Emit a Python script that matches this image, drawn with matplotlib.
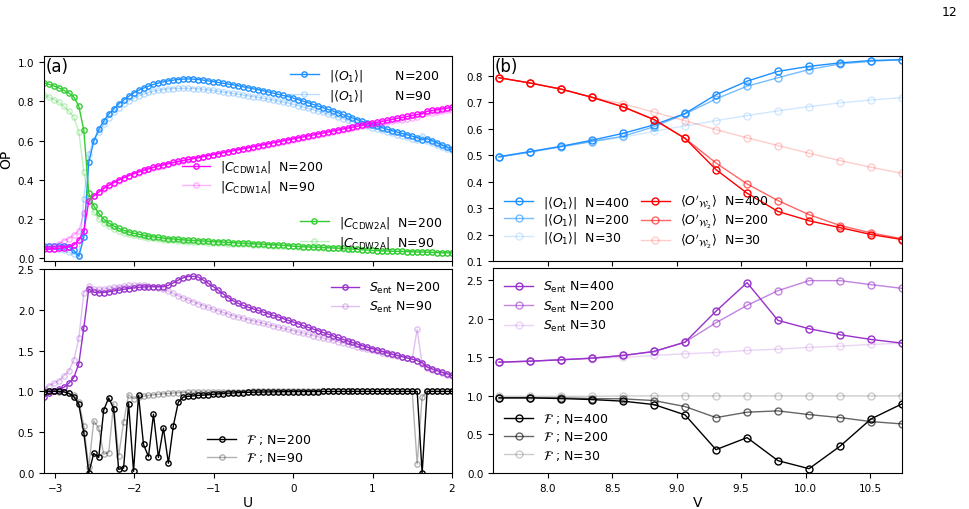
import numpy as np
import matplotlib
matplotlib.use("Agg")
import matplotlib.pyplot as plt

# ---------------- Panel (a) data ----------------
U = np.round(np.linspace(-3.14, 2.0, 83), 4)

O1_N200 = [0.060, 0.060, 0.061, 0.062, 0.062, 0.058, 0.040, 0.010, 0.107, 0.490,
           0.597, 0.658, 0.700, 0.736, 0.762, 0.787, 0.807, 0.826, 0.843, 0.857,
           0.868, 0.878, 0.887, 0.894, 0.900, 0.905, 0.909, 0.912, 0.914, 0.915,
           0.914, 0.912, 0.909, 0.905, 0.901, 0.897, 0.893, 0.889, 0.885, 0.880,
           0.875, 0.870, 0.865, 0.860, 0.855, 0.849, 0.843, 0.837, 0.831, 0.825,
           0.818, 0.810, 0.802, 0.794, 0.786, 0.777, 0.769, 0.760, 0.752, 0.743,
           0.734, 0.725, 0.716, 0.707, 0.698, 0.690, 0.682, 0.674, 0.666, 0.658,
           0.651, 0.644, 0.637, 0.630, 0.623, 0.616, 0.604, 0.610, 0.600, 0.589,
           0.578, 0.567, 0.556]
O1_N90 = [0.050, 0.050, 0.048, 0.045, 0.040, 0.030, 0.020, 0.015, 0.300, 0.530,
          0.605, 0.645, 0.685, 0.718, 0.745, 0.768, 0.786, 0.802, 0.816, 0.828,
          0.838, 0.846, 0.852, 0.857, 0.861, 0.864, 0.866, 0.867, 0.867, 0.867,
          0.866, 0.864, 0.862, 0.859, 0.856, 0.852, 0.848, 0.845, 0.841, 0.837,
          0.833, 0.829, 0.825, 0.821, 0.817, 0.812, 0.807, 0.802, 0.797, 0.792,
          0.786, 0.779, 0.772, 0.765, 0.758, 0.751, 0.744, 0.736, 0.729, 0.721,
          0.713, 0.705, 0.697, 0.689, 0.681, 0.673, 0.666, 0.659, 0.652, 0.645,
          0.638, 0.631, 0.624, 0.617, 0.610, 0.603, 0.625, 0.598, 0.590, 0.580,
          0.570, 0.560, 0.550]
C1_N200 = [0.045, 0.047, 0.049, 0.051, 0.054, 0.058, 0.068, 0.093, 0.140, 0.290,
           0.318, 0.338, 0.356, 0.372, 0.386, 0.399, 0.411, 0.422, 0.432, 0.441,
           0.449, 0.457, 0.464, 0.471, 0.477, 0.483, 0.489, 0.494, 0.499, 0.504,
           0.509, 0.514, 0.519, 0.524, 0.529, 0.534, 0.539, 0.544, 0.549, 0.554,
           0.559, 0.564, 0.569, 0.574, 0.579, 0.584, 0.589, 0.594, 0.599, 0.604,
           0.609, 0.614, 0.619, 0.624, 0.629, 0.634, 0.639, 0.644, 0.649, 0.654,
           0.659, 0.664, 0.669, 0.674, 0.679, 0.684, 0.689, 0.694, 0.699, 0.704,
           0.709, 0.714, 0.719, 0.724, 0.729, 0.734, 0.738, 0.750, 0.754, 0.758,
           0.762, 0.766, 0.770]
C1_N90 = [0.055, 0.060, 0.065, 0.075, 0.090, 0.100, 0.120, 0.140, 0.230, 0.300,
          0.320, 0.338, 0.355, 0.370, 0.384, 0.396, 0.408, 0.418, 0.428, 0.437,
          0.445, 0.453, 0.460, 0.467, 0.473, 0.479, 0.485, 0.490, 0.495, 0.500,
          0.505, 0.510, 0.515, 0.520, 0.525, 0.530, 0.535, 0.540, 0.545, 0.550,
          0.555, 0.560, 0.565, 0.570, 0.575, 0.580, 0.585, 0.590, 0.595, 0.600,
          0.605, 0.610, 0.615, 0.620, 0.625, 0.630, 0.635, 0.640, 0.645, 0.650,
          0.655, 0.660, 0.665, 0.670, 0.675, 0.679, 0.683, 0.687, 0.691, 0.695,
          0.699, 0.703, 0.707, 0.711, 0.715, 0.719, 0.735, 0.739, 0.743, 0.747,
          0.751, 0.755, 0.759]
C2_N200 = [0.895, 0.887, 0.879, 0.869, 0.857, 0.843, 0.822, 0.776, 0.653, 0.332,
           0.268, 0.229, 0.200, 0.180, 0.165, 0.153, 0.143, 0.135, 0.128, 0.122,
           0.117, 0.113, 0.109, 0.106, 0.103, 0.100, 0.098, 0.096, 0.094, 0.092,
           0.091, 0.089, 0.088, 0.087, 0.085, 0.084, 0.082, 0.081, 0.080, 0.078,
           0.077, 0.076, 0.074, 0.073, 0.072, 0.070, 0.069, 0.068, 0.066, 0.065,
           0.062, 0.060, 0.059, 0.058, 0.057, 0.056, 0.055, 0.054, 0.053, 0.052,
           0.050, 0.049, 0.047, 0.046, 0.044, 0.042, 0.040, 0.039, 0.038, 0.037,
           0.036, 0.035, 0.035, 0.034, 0.033, 0.032, 0.032, 0.031, 0.030, 0.029,
           0.028, 0.028, 0.027]
C2_N90 = [0.835, 0.822, 0.810, 0.795, 0.775, 0.750, 0.720, 0.645, 0.440, 0.300,
          0.235, 0.200, 0.180, 0.163, 0.150, 0.140, 0.131, 0.124, 0.118, 0.113,
          0.108, 0.104, 0.101, 0.098, 0.095, 0.093, 0.091, 0.089, 0.087, 0.085,
          0.084, 0.082, 0.081, 0.080, 0.078, 0.077, 0.076, 0.075, 0.074, 0.073,
          0.072, 0.071, 0.069, 0.068, 0.067, 0.066, 0.065, 0.064, 0.063, 0.062,
          0.060, 0.058, 0.057, 0.056, 0.055, 0.054, 0.053, 0.052, 0.051, 0.050,
          0.048, 0.047, 0.046, 0.045, 0.043, 0.041, 0.040, 0.039, 0.038, 0.037,
          0.036, 0.035, 0.035, 0.034, 0.033, 0.032, 0.032, 0.031, 0.030, 0.029,
          0.028, 0.028, 0.027]
S_N200 = [0.927, 0.976, 1.010, 1.030, 1.050, 1.100, 1.170, 1.340, 1.780, 2.255,
          2.215, 2.210, 2.212, 2.220, 2.230, 2.240, 2.250, 2.260, 2.268, 2.275,
          2.280, 2.282, 2.283, 2.282, 2.285, 2.300, 2.330, 2.365, 2.392, 2.408,
          2.410, 2.400, 2.365, 2.325, 2.285, 2.240, 2.195, 2.150, 2.110, 2.080,
          2.055, 2.032, 2.012, 1.993, 1.973, 1.953, 1.933, 1.913, 1.893, 1.872,
          1.852, 1.830, 1.808, 1.787, 1.766, 1.745, 1.724, 1.703, 1.682, 1.661,
          1.640, 1.620, 1.600, 1.580, 1.561, 1.542, 1.524, 1.507, 1.490, 1.474,
          1.455, 1.440, 1.425, 1.410, 1.395, 1.378, 1.350, 1.300, 1.276, 1.255,
          1.235, 1.215, 1.195]
S_N90 = [1.030, 1.070, 1.100, 1.130, 1.190, 1.250, 1.385, 1.650, 2.210, 2.290,
         2.255, 2.250, 2.255, 2.265, 2.275, 2.285, 2.292, 2.298, 2.300, 2.300,
         2.298, 2.292, 2.283, 2.270, 2.250, 2.228, 2.200, 2.172, 2.145, 2.120,
         2.098, 2.075, 2.052, 2.030, 2.008, 1.988, 1.968, 1.948, 1.928, 1.912,
         1.896, 1.880, 1.865, 1.850, 1.835, 1.820, 1.805, 1.790, 1.775, 1.760,
         1.745, 1.730, 1.715, 1.700, 1.685, 1.670, 1.655, 1.640, 1.625, 1.610,
         1.595, 1.580, 1.565, 1.550, 1.535, 1.520, 1.505, 1.490, 1.476, 1.462,
         1.449, 1.436, 1.423, 1.410, 1.397, 1.760, 1.330, 1.290, 1.265, 1.245,
         1.225, 1.205, 1.185]
F_N200 = [0.990, 1.000, 1.000, 1.000, 0.995, 0.976, 0.935, 0.840, 0.490, 0.000,
          0.240, 0.190, 0.770, 0.920, 0.790, 0.045, 0.060, 0.850, 0.020, 0.950,
          0.350, 0.200, 0.720, 0.190, 0.550, 0.120, 0.580, 0.870, 0.930, 0.940,
          0.945, 0.950, 0.955, 0.960, 0.965, 0.970, 0.974, 0.978, 0.981, 0.984,
          0.986, 0.988, 0.990, 0.991, 0.992, 0.993, 0.994, 0.995, 0.996, 0.996,
          0.997, 0.997, 0.998, 0.998, 0.998, 0.998, 0.999, 0.999, 0.999, 0.999,
          1.000, 1.000, 1.000, 1.000, 1.000, 1.000, 1.000, 1.000, 1.000, 1.000,
          1.000, 1.000, 1.000, 1.000, 1.000, 1.000, 0.000, 1.000, 1.000, 1.000,
          1.000, 1.000, 1.000]
F_N90 = [1.000, 1.000, 1.000, 0.995, 0.990, 0.975, 0.950, 0.870, 0.580, 0.070,
         0.640, 0.550, 0.230, 0.250, 0.850, 0.210, 0.620, 0.960, 0.910, 0.930,
         0.940, 0.950, 0.958, 0.965, 0.970, 0.975, 0.980, 0.983, 0.986, 0.988,
         0.990, 0.991, 0.992, 0.993, 0.994, 0.995, 0.996, 0.997, 0.997, 0.998,
         0.998, 0.998, 0.999, 0.999, 0.999, 0.999, 0.999, 1.000, 1.000, 1.000,
         1.000, 1.000, 1.000, 1.000, 1.000, 1.000, 1.000, 1.000, 1.000, 1.000,
         1.000, 1.000, 1.000, 1.000, 1.000, 1.000, 1.000, 1.000, 1.000, 1.000,
         1.000, 1.000, 1.000, 1.000, 1.000, 0.110, 0.930, 1.000, 1.000, 1.000,
         1.000, 1.000, 1.000]

# ---------------- Panel (b) data ----------------
V = [7.622, 7.862, 8.103, 8.343, 8.584, 8.824, 9.065, 9.305, 9.546, 9.786,
     10.027, 10.267, 10.508, 10.748]
O1b_N400 = [0.494, 0.513, 0.533, 0.556, 0.582, 0.614, 0.657, 0.728, 0.779, 0.816, 0.835, 0.848, 0.857, 0.860]
O1b_N200 = [0.492, 0.511, 0.531, 0.551, 0.571, 0.607, 0.655, 0.712, 0.760, 0.792, 0.823, 0.844, 0.854, 0.860]
O1b_N30 = [0.494, 0.513, 0.533, 0.551, 0.567, 0.590, 0.610, 0.630, 0.649, 0.667, 0.683, 0.697, 0.708, 0.717]
OW_N400 = [0.792, 0.772, 0.749, 0.718, 0.682, 0.634, 0.563, 0.445, 0.356, 0.287, 0.252, 0.226, 0.200, 0.181]
OW_N200 = [0.792, 0.772, 0.749, 0.718, 0.682, 0.634, 0.563, 0.470, 0.391, 0.328, 0.275, 0.234, 0.206, 0.184]
OW_N30 = [0.792, 0.772, 0.749, 0.718, 0.693, 0.662, 0.630, 0.596, 0.565, 0.536, 0.507, 0.479, 0.454, 0.431]
Sb_N400 = [1.438, 1.451, 1.469, 1.490, 1.525, 1.577, 1.698, 2.100, 2.470, 1.980, 1.872, 1.794, 1.733, 1.685]
Sb_N200 = [1.438, 1.451, 1.469, 1.490, 1.525, 1.577, 1.698, 1.950, 2.175, 2.366, 2.496, 2.496, 2.444, 2.396]
Sb_N30 = [1.438, 1.451, 1.469, 1.485, 1.500, 1.525, 1.547, 1.564, 1.590, 1.607, 1.630, 1.646, 1.668, 1.685]
Fb_N400 = [0.975, 0.975, 0.966, 0.953, 0.932, 0.888, 0.754, 0.303, 0.459, 0.160, 0.056, 0.347, 0.702, 0.897]
Fb_N200 = [0.975, 0.975, 0.975, 0.966, 0.962, 0.940, 0.862, 0.719, 0.789, 0.806, 0.758, 0.719, 0.667, 0.637]
Fb_N30 = [0.995, 0.995, 0.995, 0.995, 1.000, 1.000, 1.000, 1.000, 1.000, 1.000, 1.000, 1.000, 1.000, 1.000]

BLUE = '#1E90FF'
MAG = '#FF00FF'
GREEN = '#32CD32'
RED = '#FF0000'
PURP = '#9932CC'
BLACK = '#000000'

fig = plt.figure(figsize=(9.69, 5.10), dpi=100)
W, H = 969.0, 510.0

def box(x0, y0, x1, y1):
    return [x0 / W, 1 - y1 / H, (x1 - x0) / W, (y1 - y0) / H]

axA = fig.add_axes(box(44, 57, 452, 262))
axB = fig.add_axes(box(44, 270, 452, 474))
axC = fig.add_axes(box(493, 57, 902, 262))
axD = fig.add_axes(box(493, 269, 902, 474))

TL = 7.5
LF = 9
LS = 0.3

def pl(ax, x, y, c, a, lab, ms):
    ax.plot(x, y, '-o', color=c, alpha=a, lw=1.0, ms=ms, mfc='none', mew=1.0, label=lab)

msA = 3.8
# panel (a) top
lO = r'$|\langle O_1\rangle|$' + '        '
pl(axA, U, O1_N200, BLUE, 1.0, lO + 'N=200', msA)
pl(axA, U, O1_N90, BLUE, 0.3, lO + 'N=90', msA)
pl(axA, U, C1_N200, MAG, 1.0, r'$|C_{\mathrm{CDW1A}}|$  N=200', msA)
pl(axA, U, C1_N90, MAG, 0.3, r'$|C_{\mathrm{CDW1A}}|$  N=90', msA)
pl(axA, U, C2_N200, GREEN, 1.0, r'$|C_{\mathrm{CDW2A}}|$  N=200', msA)
pl(axA, U, C2_N90, GREEN, 0.3, r'$|C_{\mathrm{CDW2A}}|$  N=90', msA)
h, l = axA.get_legend_handles_labels()
kw = dict(frameon=False, fontsize=LF, handlelength=2.3, labelspacing=LS)
leg1 = axA.legend(h[0:2], l[0:2], loc='upper left', bbox_to_anchor=(0.575, 1.0), **kw)
axA.add_artist(leg1)
leg2 = axA.legend(h[2:4], l[2:4], loc='upper left', bbox_to_anchor=(0.31, 0.555), **kw)
axA.add_artist(leg2)
axA.legend(h[4:6], l[4:6], loc='upper left', bbox_to_anchor=(0.6, 0.285), **kw)
axA.set_xlim(-3.14, 2.0)
axA.set_ylim(-0.014, 1.032)
axA.set_yticks([0.0, 0.2, 0.4, 0.6, 0.8, 1.0])
axA.set_xticks([-3, -2, -1, 0, 1, 2])
axA.tick_params(labelbottom=False, labelsize=TL)
axA.set_ylabel('OP', fontsize=10, labelpad=3)
axA.text(0.003, 0.995, '(a)', transform=axA.transAxes, ha='left', va='top', fontsize=12)

# panel (a) bottom
pl(axB, U, S_N200, PURP, 1.0, r'$S_{\mathrm{ent}}$ N=200', msA)
pl(axB, U, S_N90, PURP, 0.3, r'$S_{\mathrm{ent}}$ N=90', msA)
pl(axB, U, F_N200, BLACK, 1.0, r'$\mathcal{F}$ ; N=200', msA)
pl(axB, U, F_N90, BLACK, 0.3, r'$\mathcal{F}$ ; N=90', msA)
h, l = axB.get_legend_handles_labels()
leg3 = axB.legend(h[0:2], l[0:2], loc='upper right', **kw)
axB.add_artist(leg3)
axB.legend(h[2:4], l[2:4], loc='upper left', bbox_to_anchor=(0.373, 0.255), **kw)
axB.set_xlim(-3.14, 2.0)
axB.set_ylim(0, 2.5)
axB.set_yticks([0.0, 0.5, 1.0, 1.5, 2.0, 2.5])
axB.set_xticks([-3, -2, -1, 0, 1, 2])
axB.tick_params(labelsize=TL)
axB.set_xlabel('U', fontsize=10, labelpad=2)

msB = 5.0
# panel (b) top
lO2 = r'$|\langle O_1\rangle|$  '
lW = r"$\langle O'_{\mathcal{W}_2}\rangle$  "
pl(axC, V, O1b_N400, BLUE, 1.0, lO2 + 'N=400', msB)
pl(axC, V, O1b_N200, BLUE, 0.6, lO2 + 'N=200', msB)
pl(axC, V, O1b_N30, BLUE, 0.2, lO2 + 'N=30', msB)
pl(axC, V, OW_N400, RED, 1.0, lW + 'N=400', msB)
pl(axC, V, OW_N200, RED, 0.6, lW + 'N=200', msB)
pl(axC, V, OW_N30, RED, 0.2, lW + 'N=30', msB)
axC.legend(loc='lower left', ncol=2, frameon=False, fontsize=LF, handlelength=2.3,
           labelspacing=0.1, columnspacing=0.9)
axC.set_xlim(7.575, 10.748)
axC.set_ylim(0.1, 0.874)
axC.set_yticks([0.1, 0.2, 0.3, 0.4, 0.5, 0.6, 0.7, 0.8])
axC.set_xticks([8.0, 8.5, 9.0, 9.5, 10.0, 10.5])
axC.tick_params(labelbottom=False, labelsize=TL)
axC.text(0.003, 0.995, '(b)', transform=axC.transAxes, ha='left', va='top', fontsize=12)

# panel (b) bottom
pl(axD, V, Sb_N400, PURP, 1.0, r'$S_{\mathrm{ent}}$ N=400', msB)
pl(axD, V, Sb_N200, PURP, 0.6, r'$S_{\mathrm{ent}}$ N=200', msB)
pl(axD, V, Sb_N30, PURP, 0.2, r'$S_{\mathrm{ent}}$ N=30', msB)
pl(axD, V, Fb_N400, BLACK, 1.0, r'$\mathcal{F}$ ; N=400', msB)
pl(axD, V, Fb_N200, BLACK, 0.6, r'$\mathcal{F}$ ; N=200', msB)
pl(axD, V, Fb_N30, BLACK, 0.2, r'$\mathcal{F}$ ; N=30', msB)
h, l = axD.get_legend_handles_labels()
leg4 = axD.legend(h[0:3], l[0:3], loc='upper left', frameon=False, fontsize=LF, handlelength=2.3, labelspacing=0.35)
axD.add_artist(leg4)
axD.legend(h[3:6], l[3:6], loc='lower left', frameon=False, fontsize=LF, handlelength=2.3, labelspacing=0.35)
axD.set_xlim(7.575, 10.748)
axD.set_ylim(0, 2.66)
axD.set_yticks([0.0, 0.5, 1.0, 1.5, 2.0, 2.5])
axD.set_xticks([8.0, 8.5, 9.0, 9.5, 10.0, 10.5])
axD.tick_params(labelsize=TL)
axD.set_xlabel('V', fontsize=10, labelpad=2)

fig.text(957 / W, 1 - 12 / H, '12', ha='right', va='center', fontsize=9)

fig.savefig('out.png', dpi=100)
